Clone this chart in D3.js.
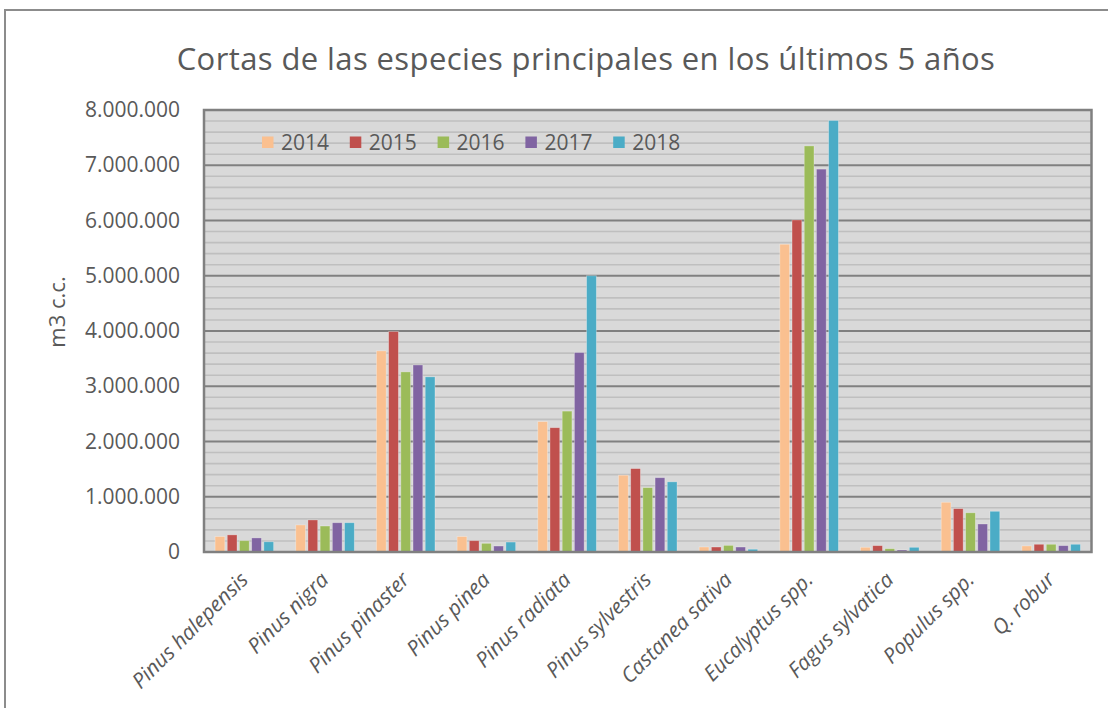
<!DOCTYPE html>
<html>
<head>
<meta charset="utf-8">
<script src="https://cdn.jsdelivr.net/npm/d3@7"></script>
<style>
  body { margin: 0; background: #fff; }
  svg { display: block; font-family: "Open Sans", sans-serif; }
</style>
</head>
<body>
<svg id="chart"></svg>
<script>
// datos (m3 c.c.)
const species = ["Pinus halepensis", "Pinus nigra", "Pinus pinaster", "Pinus pinea", "Pinus radiata",
  "Pinus sylvestris", "Castanea sativa", "Eucalyptus spp.", "Fagus sylvatica", "Populus spp.", "Q. robur"];
const years = ["2014", "2015", "2016", "2017", "2018"];
const v2014 = [280000, 490000, 3640000, 280000, 2360000, 1390000, 90000, 5570000, 85000, 900000, 110000];
const v2015 = [310000, 580000, 3990000, 205000, 2250000, 1510000, 90000, 6010000, 115000, 785000, 140000];
const v2016 = [205000, 470000, 3260000, 157000, 2550000, 1165000, 120000, 7350000, 60000, 710000, 140000];
const v2017 = [255000, 530000, 3385000, 108000, 3610000, 1345000, 90000, 6930000, 36000, 507000, 115000];
const v2018 = [185000, 530000, 3170000, 180000, 5000000, 1270000, 50000, 7810000, 85000, 737000, 140000];
const yTicks = [0, 1000000, 2000000, 3000000, 4000000, 5000000, 6000000, 7000000, 8000000];
const colors = ["#FAC090", "#C0504D", "#9BBB59", "#8064A2", "#4BACC6"];

const series = [v2014, v2015, v2016, v2017, v2018];
const width = 1108, height = 708;
const plot = { left: 204, right: 1091.5, top: 110, bottom: 552 };
const textCol = "#595959";

const svg = d3.select("#chart").attr("width", width).attr("height", height);

// marco exterior
svg.append("rect")
  .attr("x", 5).attr("y", 10)
  .attr("width", 1200).attr("height", 800)
  .attr("fill", "#fff")
  .attr("stroke", "#8c8c8c")
  .attr("stroke-width", 2);

const x0 = d3.scaleBand().domain(species).range([plot.left, plot.right]).padding(0);
const bw = x0.bandwidth();
const x1 = d3.scaleBand().domain(years)
  .range([bw / 2 - 30.5, bw / 2 + 30.5])
  .paddingInner(0.2).paddingOuter(0.1);
const y = d3.scaleLinear().domain([0, 8000000]).range([plot.bottom, plot.top]);

const loc = d3.formatLocale({ decimal: ",", thousands: ".", grouping: [3], currency: ["", "€"] });
const fmt = loc.format(",d");

// fondo
svg.append("rect")
  .attr("x", plot.left).attr("y", plot.top)
  .attr("width", plot.right - plot.left).attr("height", plot.bottom - plot.top)
  .attr("fill", "#d9d9d9");

// líneas de división secundarias
const minor = d3.range(0, 8000001, 200000).filter(d => d % 1000000 !== 0);
svg.append("g").selectAll("line").data(minor).enter().append("line")
  .attr("x1", plot.left).attr("x2", plot.right)
  .attr("y1", d => y(d)).attr("y2", d => y(d))
  .attr("stroke", "#bfbfbf").attr("stroke-width", 1.6);

// principales
svg.append("g").selectAll("line").data(yTicks).enter().append("line")
  .attr("x1", plot.left).attr("x2", plot.right)
  .attr("y1", d => y(d)).attr("y2", d => y(d))
  .attr("stroke", "#808080").attr("stroke-width", 2);

// barras
const groups = svg.append("g").selectAll("g").data(species).enter().append("g")
  .attr("transform", d => "translate(" + x0(d) + ",0)");

groups.selectAll("rect")
  .data((d, i) => years.map((yr, j) => ({ yr: yr, j: j, v: series[j][i] })))
  .enter().append("rect")
  .attr("x", d => x1(d.yr))
  .attr("width", x1.bandwidth())
  .attr("y", d => y(d.v))
  .attr("height", d => y(0) - y(d.v))
  .attr("fill", d => colors[d.j])
  .attr("stroke", "#ffffff")
  .attr("stroke-opacity", 0.35)
  .attr("stroke-width", 0.8);

// borde del área de trazado
svg.append("rect")
  .attr("x", plot.left).attr("y", plot.top)
  .attr("width", plot.right - plot.left).attr("height", plot.bottom - plot.top)
  .attr("fill", "none")
  .attr("stroke", "#808080")
  .attr("stroke-width", 2.5);

// eje Y
const yAxis = svg.append("g")
  .attr("transform", "translate(" + (plot.left - 24) + ",0)")
  .call(d3.axisLeft(y).tickValues(yTicks).tickFormat(fmt).tickSize(0).tickPadding(0));
yAxis.select(".domain").remove();
yAxis.selectAll("text")
  .attr("fill", textCol)
  .attr("font-size", "21px")
  .attr("font-family", "'Open Sans', sans-serif");

// etiquetas eje X
svg.append("g").selectAll("text").data(species).enter().append("text")
  .attr("transform", d => "translate(" + (x0(d) + bw / 2 + 5) + "," + (plot.bottom + 29) + ") rotate(-45)")
  .attr("text-anchor", "end")
  .attr("font-size", "21px")
  .attr("font-style", "italic")
  .attr("fill", textCol)
  .text(d => d);

// título eje Y
svg.append("text")
  .attr("transform", "translate(65,312) rotate(-90)")
  .attr("text-anchor", "middle")
  .attr("font-size", "22px")
  .attr("fill", textCol)
  .text("m3 c.c.");

// título
svg.append("text")
  .attr("x", 586).attr("y", 70)
  .attr("text-anchor", "middle")
  .attr("font-size", "31px")
  .attr("letter-spacing", "0.4px")
  .attr("fill", textCol)
  .text("Cortas de las especies principales en los últimos 5 años");

// leyenda
const legend = svg.append("g").selectAll("g").data(years).enter().append("g")
  .attr("transform", (d, i) => "translate(" + (262 + i * 87.8) + ",136.5)");
legend.append("rect")
  .attr("width", 11.5).attr("height", 11.5)
  .attr("fill", (d, i) => colors[i]);
legend.append("text")
  .attr("x", 19).attr("y", 13.8)
  .attr("font-size", "21px")
  .attr("fill", textCol)
  .text(d => d);
</script>
</body>
</html>
